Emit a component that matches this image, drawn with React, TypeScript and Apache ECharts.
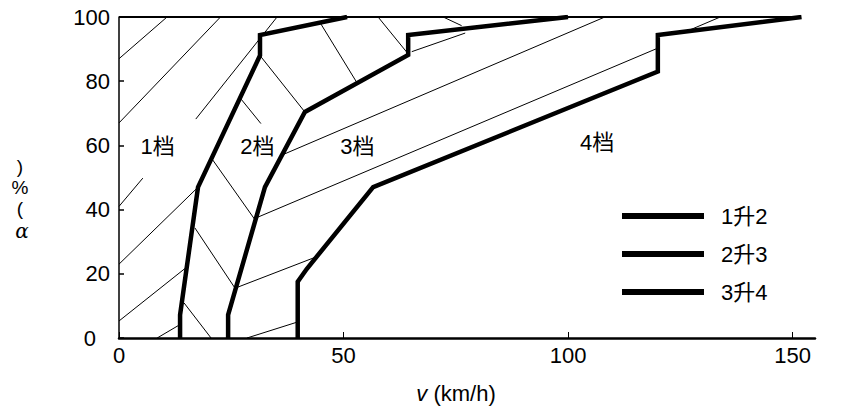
import React, { useEffect, useRef } from "react";
import * as echarts from "echarts";

const FONT = '"Liberation Sans", Arial, "Noto Sans CJK SC", sans-serif';

// Shift curves (x: v km/h, y: α %)
const curveNames = ["1升2", "2升3", "3升4"];
const upshift12 = [[13.6, 0], [13.6, 7.2], [17.6, 47], [31.4, 88], [31.4, 94.4], [50.8, 100]];
const upshift23 = [[24.3, 0], [24.3, 7.2], [32.5, 47], [41.4, 70.4], [64.4, 88.2], [64.4, 94.4], [100, 100]];
const upshift34 = [[39.8, 0], [39.8, 17.5], [41.8, 21.5], [56.6, 47], [120, 83], [120, 94.4], [152, 100]];

// Hatch segments [x1, y1, x2, y2]
const hatchRegion1 = [
  [0, 87, 10.7, 100],
  [0, 67, 22.6, 100],
  [17.1, 68.2, 35.2, 100],
  [0, 41, 5.3, 49.8],
  [0, 23, 17.4, 46.7],
  [0, 5.3, 15.1, 22.1],
  [8.5, 0, 13.6, 4.2],
];
const hatchRegion2 = [
  [14.5, 10.9, 20.5, 0],
  [16.9, 34.3, 25.8, 15.6],
  [20.6, 56, 30.3, 36.8],
  [27.2, 74.4, 31.6, 66.8],
  [31.4, 88, 41.4, 70.4],
  [44.8, 98.2, 53, 79.5],
  [57.7, 100, 64.4, 88.5],
];
const hatchRegion3 = [
  [28.5, 0, 39.8, 5],
  [26.0, 15.6, 43.8, 25.2],
  [30.5, 37.4, 120, 90.3],
  [36.3, 57, 108.2, 100],
  [65.2, 89.2, 77.1, 95],
  [72.2, 100, 76.3, 97.3],
  [127.2, 96, 133.9, 100],
];
const topEdge = [[0, 100, 150, 100]];

const gearLabels = ["1档", "2档", "3档", "4档"];
const gearLabelX = [8.6, 30.8, 53.1, 106.5];
const gearLabelY = [59.8, 59.8, 59.8, 61];

const xMin = 0, xMax = 155, xStep = 50;
const yMin = 0, yMax = 100, yStep = 20;

export default function App() {
  const ref = useRef<HTMLDivElement>(null);
  useEffect(() => {
    const chart = echarts.init(ref.current as HTMLDivElement, null, { renderer: "svg" });
    const curves = [upshift12, upshift23, upshift34].map((d, i) => ({
      name: curveNames[i],
      type: "line",
      data: d,
      showSymbol: false,
      symbol: "none",
      color: "#000",
      lineStyle: { width: 4.5, color: "#000", join: "miter" },
      z: 5,
      silent: true,
    }));
    const hatch = [...hatchRegion1, ...hatchRegion2, ...hatchRegion3];
    chart.setOption({
      animation: false,
      textStyle: { fontFamily: FONT },
      grid: { left: 119, right: 26, top: 17, bottom: 75 },
      xAxis: {
        type: "value",
        min: xMin,
        max: xMax,
        interval: xStep,
        axisLine: { lineStyle: { color: "#000", width: 2.5 } },
        axisTick: { inside: true, length: 6, lineStyle: { color: "#000", width: 1 } },
        axisLabel: { color: "#000", fontSize: 22, margin: 6, fontFamily: FONT },
        splitLine: { show: false },
      },
      yAxis: {
        type: "value",
        min: yMin,
        max: yMax,
        interval: yStep,
        axisLine: { show: true, lineStyle: { color: "#000", width: 1.5 } },
        axisTick: { show: true, inside: true, length: 5, lineStyle: { color: "#000", width: 1.5 } },
        axisLabel: {
          color: "#000",
          fontSize: 22,
          margin: 9,
          fontFamily: FONT,
          formatter: (v: number) => (v === 0 ? "{z|0}" : String(v)),
          rich: { z: { fontSize: 22, color: "#000", fontFamily: FONT, padding: [0, 14, 0, 0] } },
        },
        splitLine: { show: false },
      },
      legend: {
        data: curveNames,
        orient: "vertical",
        left: 617,
        top: 200,
        itemWidth: 82,
        itemHeight: 6,
        icon: "rect",
        itemGap: 16,
        textStyle: { fontSize: 22, color: "#000", fontFamily: FONT, lineHeight: 20, padding: [0, 0, 0, 12] },
      },
      graphic: [
        { type: "text", x: 20, y: 166, style: { text: ")", fill: "#000", font: `19px ${FONT}`, textAlign: "center", textVerticalAlign: "middle" } },
        { type: "text", x: 20, y: 187, style: { text: "%", fill: "#000", font: `19px ${FONT}`, textAlign: "center", textVerticalAlign: "middle" } },
        { type: "text", x: 20, y: 208, style: { text: "(", fill: "#000", font: `19px ${FONT}`, textAlign: "center", textVerticalAlign: "middle" } },
        { type: "text", x: 22, y: 231, style: { text: "α", fill: "#000", font: `italic 20px "DejaVu Serif", serif`, textAlign: "center", textVerticalAlign: "middle" } },
        {
          type: "text",
          x: 456,
          y: 393,
          style: {
            text: "{i|v} (km/h)",
            fill: "#000",
            font: `22px ${FONT}`,
            textAlign: "center",
            textVerticalAlign: "middle",
            rich: { i: { fontStyle: "italic", fontSize: 22, fontFamily: FONT, fill: "#000" } },
          },
        },
      ],
      series: [
        {
          type: "lines",
          coordinateSystem: "cartesian2d",
          data: hatch.map((s) => ({ coords: [[s[0], s[1]], [s[2], s[3]]] })),
          lineStyle: { color: "#000", width: 1, opacity: 1 },
          silent: true,
          z: 3,
        },
        {
          type: "lines",
          coordinateSystem: "cartesian2d",
          data: topEdge.map((s) => ({ coords: [[s[0], s[1]], [s[2], s[3]]] })),
          lineStyle: { color: "#000", width: 2, opacity: 1 },
          silent: true,
          z: 4,
        },
        ...curves,
        {
          type: "scatter",
          data: gearLabels.map((t, i) => ({ name: t, value: [gearLabelX[i], gearLabelY[i]] })),
          symbolSize: 1,
          itemStyle: { color: "rgba(0,0,0,0)", opacity: 1 },
          label: { show: true, position: "inside", formatter: "{b}", fontSize: 22, color: "#000", opacity: 1, fontFamily: FONT },
          silent: true,
          z: 6,
        },
      ],
    });
    return () => chart.dispose();
  }, []);
  return (
    <div
      ref={ref}
      style={{ position: "fixed", left: 0, top: 0, width: 841, height: 413, background: "#fff" }}
    />
  );
}
